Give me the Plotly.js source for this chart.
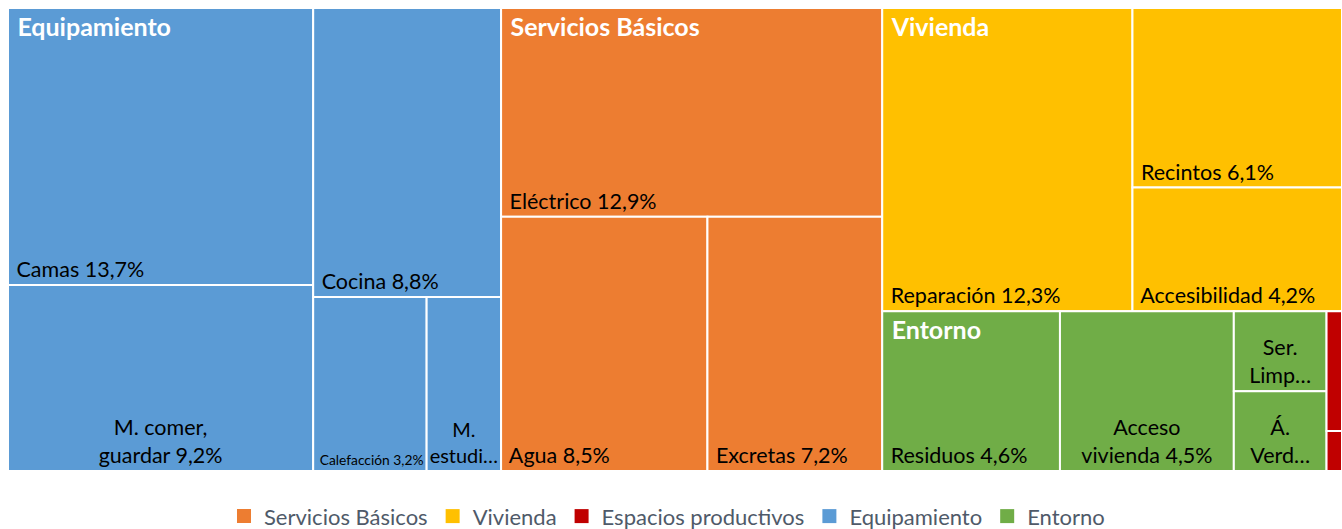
<!DOCTYPE html>
<html>
<head>
<meta charset="utf-8">
<script src="https://cdn.plot.ly/plotly-3.0.1.min.js"></script>
<style>
html,body{margin:0;padding:0;background:#ffffff;}
#chart{width:1342px;height:529px;}
</style>
</head>
<body>
<div id="chart"></div>
<script>
// ---------- data ----------
const groups = ["Equipamiento", "Servicios Básicos", "Vivienda", "Entorno", "Espacios productivos"];
const groupColors = ["#5B9BD5", "#ED7D31", "#FFC000", "#70AD47", "#C00000"];
const legendOrder = ["Servicios Básicos", "Vivienda", "Espacios productivos", "Equipamiento", "Entorno"];

const leafNames = [
  "Camas", "M. comer, guardar", "Cocina", "Calefacción", "M. estudi…",
  "Eléctrico", "Agua", "Excretas",
  "Reparación", "Recintos", "Accesibilidad",
  "Residuos", "Acceso vivienda", "Ser. Limp…", "Á. Verd…",
  "Espacios productivos (a)", "Espacios productivos (b)"
];
const leafGroups = [
  "Equipamiento", "Equipamiento", "Equipamiento", "Equipamiento", "Equipamiento",
  "Servicios Básicos", "Servicios Básicos", "Servicios Básicos",
  "Vivienda", "Vivienda", "Vivienda",
  "Entorno", "Entorno", "Entorno", "Entorno",
  "Espacios productivos", "Espacios productivos"
];
const leafValues = [
  13.7, 9.2, 8.8, 3.2, 2.1,
  12.9, 8.5, 7.2,
  12.3, 6.1, 4.2,
  4.6, 4.5, 1.2, 1.2,
  0.3, 0.1
];
// how each cell label is shown: "line" = name + % on one line,
// "wrap" = name + % wrapped and centred, "cut" = truncated name only, "none" = no label
const leafLabelMode = [
  "line", "wrap", "line", "line", "cut",
  "line", "line", "line",
  "line", "line", "line",
  "line", "wrap", "cut", "cut",
  "none", "none"
];

// ---------- helpers ----------
const FONT = "Lato, 'Open Sans', sans-serif";
const pct = v => v.toFixed(1).replace(".", ",") + "%";
function wrapMid(s) {
  const mid = s.length / 2;
  let best = -1, bd = 1e9;
  for (let i = 0; i < s.length; i++) {
    if (s[i] === " " && Math.abs(i - mid) < bd) { bd = Math.abs(i - mid); best = i; }
  }
  return best < 0 ? s : s.slice(0, best) + "<br>" + s.slice(best + 1);
}
const colorOf = g => groupColors[groups.indexOf(g)];
const TRANSP = "rgba(0,0,0,0)";

const leafIds = leafNames.map((n, i) => leafGroups[i] + "/" + n);
const ids = groups.concat(leafIds);
const labels = groups.concat(leafNames);
const parents = groups.map(() => "").concat(leafGroups);
const values = groups.map(() => 0).concat(leafValues);

const lineText = groups.map(() => "").concat(leafNames.map((n, i) =>
  leafLabelMode[i] === "line" ? "&nbsp;" + n + " " + pct(leafValues[i]) : ""));
const wrapText = groups.map(() => "").concat(leafNames.map((n, i) => {
  if (leafLabelMode[i] === "wrap") return wrapMid(n) + " " + pct(leafValues[i]);
  if (leafLabelMode[i] === "cut") return wrapMid(n);
  return "";
}));

const groupSums = groups.map(g => leafValues.reduce((s, v, i) => s + (leafGroups[i] === g ? v : 0), 0));

const common = {
  type: "treemap",
  branchvalues: "remainder",
  sort: true,
  tiling: {packing: "squarify", squarifyratio: 1, pad: 0},
  pathbar: {visible: false},
  root: {color: TRANSP},
  leaf: {opacity: 1},
  domain: {x: [0, 1], y: [0, 1]},
  textinfo: "text",
  showlegend: false
};

const base = Object.assign({}, common, {
  ids: ids, labels: labels, parents: parents, values: values,
  text: lineText,
  textposition: "bottom left",
  textfont: {family: FONT, size: 21.5, color: "#000000"},
  marker: {
    colors: groups.map(colorOf).concat(leafGroups.map(colorOf)),
    line: {color: "#ffffff", width: 2},
    pad: {t: 0, l: 0, r: 0, b: 0}
  },
  hovertemplate: "%{label}: %{value}%<extra></extra>"
});

const centred = Object.assign({}, common, {
  ids: ids, labels: labels, parents: parents, values: values,
  text: wrapText,
  textposition: "bottom center",
  textfont: {family: FONT, size: 21.5, color: "#000000"},
  marker: {
    colors: ids.map(() => TRANSP),
    line: {color: TRANSP, width: 0},
    pad: {t: 0, l: 0, r: 0, b: 0}
  },
  hoverinfo: "skip"
});

// group banners (too-small groups get no banner, as in the original)
const headers = Object.assign({}, common, {
  ids: groups, labels: groups, parents: groups.map(() => ""), values: groupSums,
  text: groups.map((g, i) => groupSums[i] >= 1 ? "&nbsp;<b>" + g + "</b>" : ""),
  textposition: "top left",
  textfont: {family: FONT, size: 25, color: "#ffffff"},
  marker: {
    colors: groups.map(() => TRANSP),
    line: {color: TRANSP, width: 0},
    pad: {t: 0, l: 0, r: 0, b: 0}
  },
  hoverinfo: "skip"
});

const legendTraces = legendOrder.map(g => ({
  type: "scatter", mode: "markers", x: [null], y: [null], name: g,
  marker: {symbol: "square", size: 14, color: colorOf(g)},
  showlegend: true, hoverinfo: "skip"
}));

const layout = {
  width: 1342, height: 529,
  margin: {l: 8, r: 0, t: 8, b: 58, autoexpand: false},
  paper_bgcolor: "#ffffff", plot_bgcolor: "#ffffff",
  font: {family: FONT, size: 20, color: "#595959"},
  xaxis: {visible: false, range: [0, 1], fixedrange: true},
  yaxis: {visible: false, range: [0, 1], fixedrange: true},
  showlegend: true,
  legend: {
    orientation: "h", x: 0.494, xanchor: "center",
    yref: "container", y: 0.024, yanchor: "middle",
    font: {family: FONT, size: 22, color: "#4F5A69"},
    traceorder: "normal", bgcolor: "rgba(0,0,0,0)"
  }
};

Plotly.newPlot("chart", [base, centred, headers].concat(legendTraces), layout,
  {displayModeBar: false});
</script>
</body>
</html>
